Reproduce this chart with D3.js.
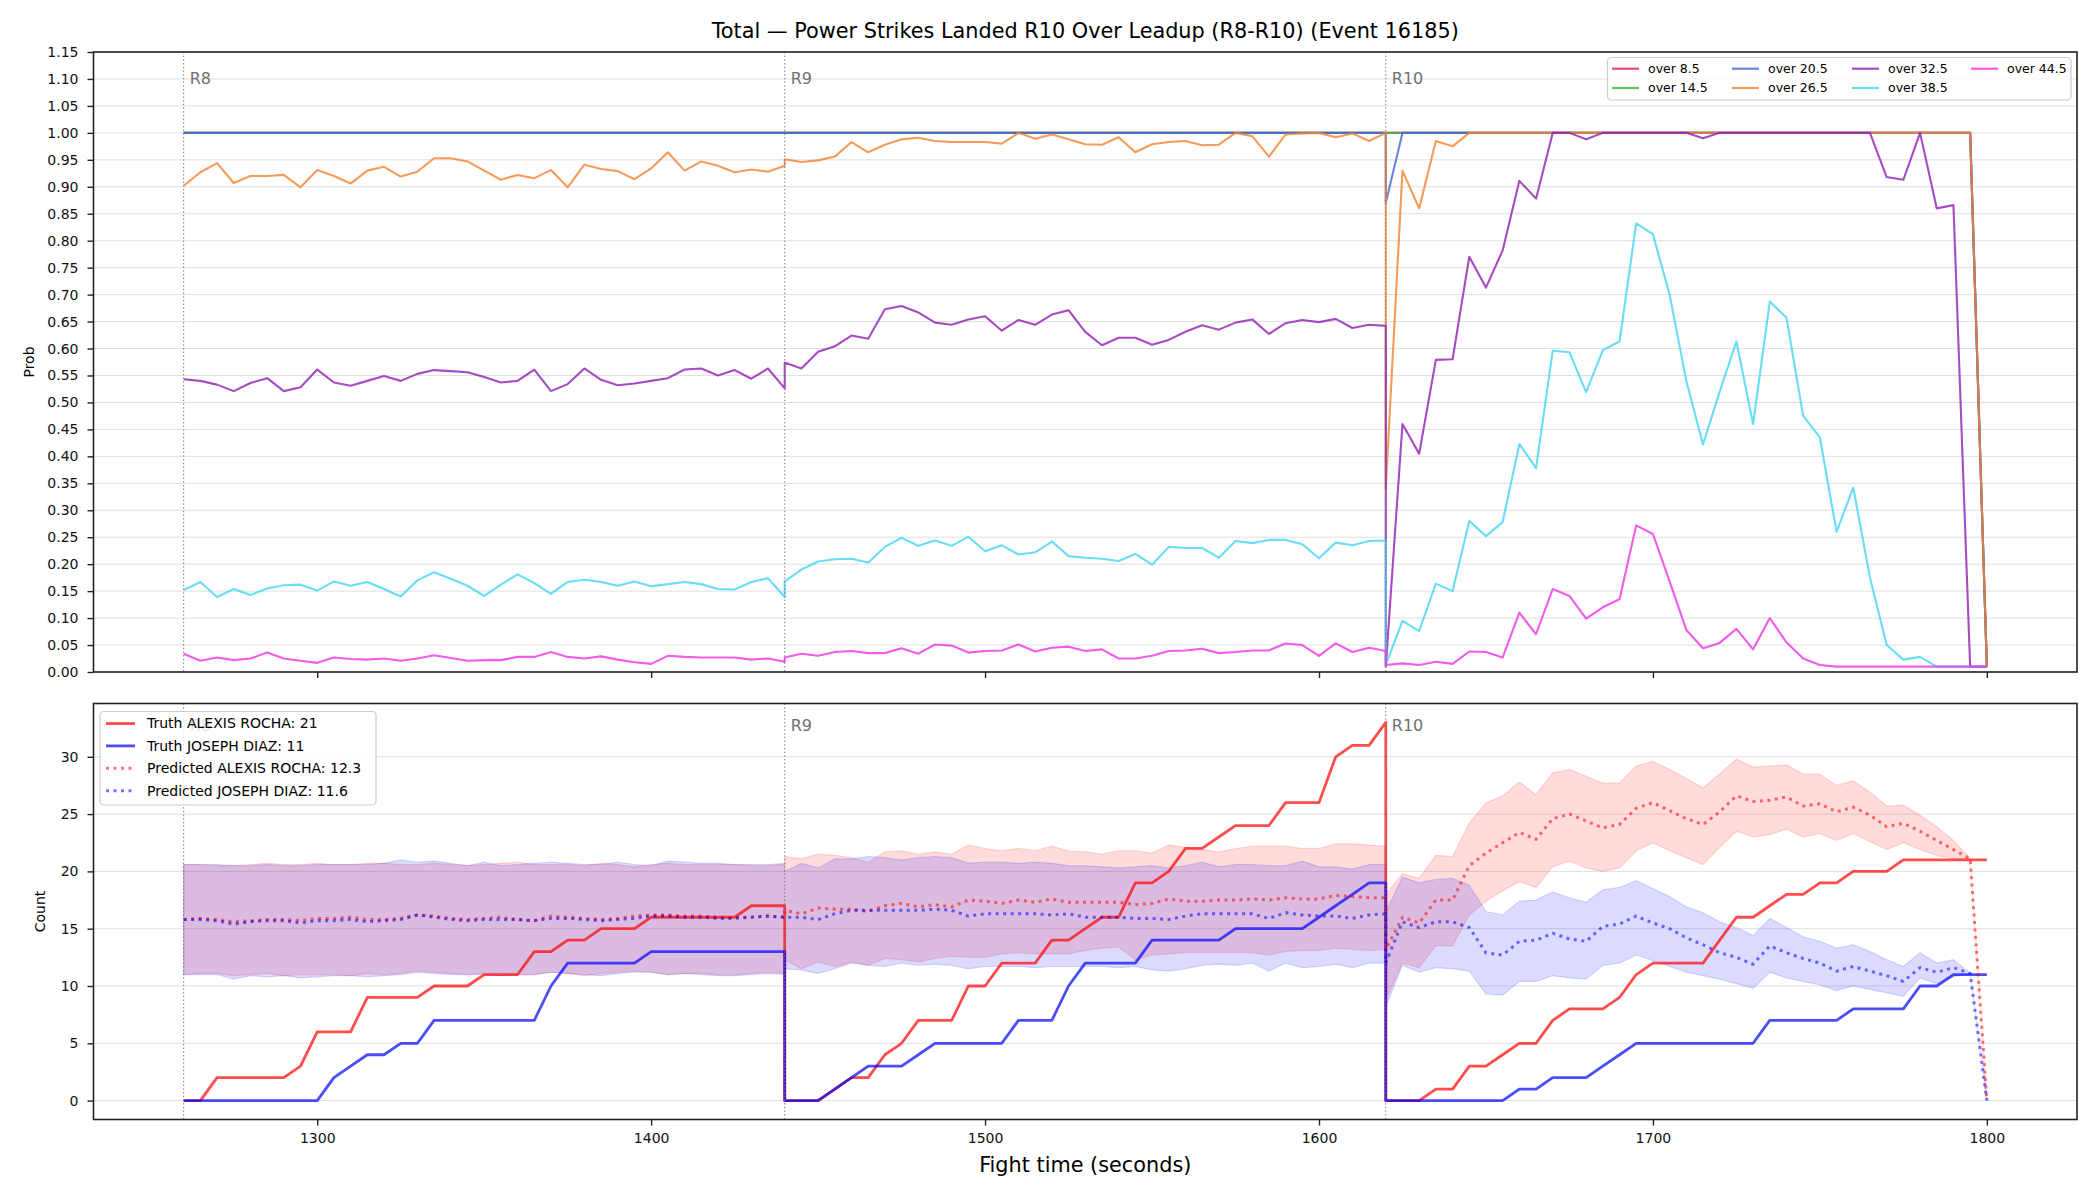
<!DOCTYPE html>
<html>
<head>
<meta charset="utf-8">
<script src="https://cdn.jsdelivr.net/npm/d3@7"></script>
<style>
    body { margin: 0; background: #fff; }
    svg { display: block; font-family: "DejaVu Sans", sans-serif; }
</style>
</head>
<body>
<svg id="chart" width="2100" height="1200"></svg>
<script>
const roundNames = ["R8", "R9", "R10"];
const roundStarts = [1260, 1440, 1620];
const sampleOffsets = [0, 5, 10, 15, 20, 25, 30, 35, 40, 45, 50, 55, 60, 65, 70, 75, 80, 85, 90,
    95, 100, 105, 110, 115, 120, 125, 130, 135, 140, 145, 150, 155, 160, 165, 170, 175, 180];
const timeTicks = [1300, 1400, 1500, 1600, 1700, 1800];
const probTicks = [0, 0.05, 0.1, 0.15, 0.2, 0.25, 0.3, 0.35, 0.4, 0.45, 0.5, 0.55, 0.6, 0.65, 0.7,
    0.75, 0.8, 0.85, 0.9, 0.95, 1.0, 1.05, 1.1, 1.15];
const countTicks = [0, 5, 10, 15, 20, 25, 30];

const overLabels = ["over 8.5", "over 14.5", "over 20.5", "over 26.5", "over 32.5", "over 38.5", "over 44.5"];
const overColors = ["#e6194b", "#3cb44b", "#4363d8", "#f58231", "#911eb4", "#42d4f4", "#f032e6"];

// probability series, one row per round (R8, R9, R10)
const over8_5 = [
    [1,1,1,1,1,1,1,1,1,1,1,1,1,1,1,1,1,1,1,1,1,1,1,1,1,1,1,1,1,1,1,1,1,1,1,1,1],
    [1,1,1,1,1,1,1,1,1,1,1,1,1,1,1,1,1,1,1,1,1,1,1,1,1,1,1,1,1,1,1,1,1,1,1,1,1],
    [1,1,1,1,1,1,1,1,1,1,1,1,1,1,1,1,1,1,1,1,1,1,1,1,1,1,1,1,1,1,1,1,1,1,1,1,0.01]
];
const over14_5 = [
    [1,1,1,1,1,1,1,1,1,1,1,1,1,1,1,1,1,1,1,1,1,1,1,1,1,1,1,1,1,1,1,1,1,1,1,1,1],
    [1,1,1,1,1,1,1,1,1,1,1,1,1,1,1,1,1,1,1,1,1,1,1,1,1,1,1,1,1,1,1,1,1,1,1,1,1],
    [1,1,1,1,1,1,1,1,1,1,1,1,1,1,1,1,1,1,1,1,1,1,1,1,1,1,1,1,1,1,1,1,1,1,1,1,0.01]
];
const over20_5 = [
    [1,1,1,1,1,1,1,1,1,1,1,1,1,1,1,1,1,1,1,1,1,1,1,1,1,1,1,1,1,1,1,1,1,1,1,1,1],
    [1,1,1,1,1,1,1,1,1,1,1,1,1,1,1,1,1,1,1,1,1,1,1,1,1,1,1,1,1,1,1,1,1,1,1,1,1],
    [0.87,1,1,1,1,1,1,1,1,1,1,1,1,1,1,1,1,1,1,1,1,1,1,1,1,1,1,1,1,1,1,1,1,1,1,1,0.01]
];
const over26_5 = [
    [0.902,0.927,0.944,0.907,0.920,0.920,0.922,0.899,0.931,0.920,0.906,0.930,0.937,0.919,0.928,0.953,0.953,0.947,0.930,
     0.913,0.922,0.916,0.931,0.899,0.941,0.933,0.929,0.914,0.934,0.964,0.930,0.947,0.939,0.927,0.932,0.928,0.939],
    [0.951,0.946,0.949,0.956,0.983,0.964,0.978,0.988,0.991,0.985,0.983,0.983,0.983,0.980,1.0,0.989,0.997,0.988,0.979,
     0.978,0.992,0.964,0.979,0.983,0.985,0.977,0.978,1.0,0.994,0.956,0.997,0.999,1.0,0.992,0.999,0.985,1.0],
    [0.34,0.93,0.86,0.985,0.975,1,1,1,1,1,1,1,1,1,1,1,1,1,1,1,1,1,1,1,1,1,1,1,1,1,1,1,1,1,1,1,0.01]
];
const over32_5 = [
    [0.543,0.540,0.533,0.521,0.536,0.545,0.521,0.528,0.561,0.537,0.531,0.540,0.549,0.540,0.553,0.560,0.558,0.556,0.547,
     0.537,0.540,0.561,0.521,0.534,0.563,0.542,0.532,0.535,0.540,0.545,0.561,0.563,0.550,0.560,0.544,0.563,0.526],
    [0.574,0.563,0.594,0.604,0.624,0.618,0.673,0.679,0.667,0.648,0.644,0.654,0.660,0.633,0.653,0.644,0.663,0.671,0.631,
     0.606,0.620,0.620,0.607,0.616,0.631,0.643,0.635,0.648,0.654,0.627,0.647,0.653,0.649,0.655,0.638,0.644,0.642],
    [0.01,0.46,0.405,0.579,0.58,0.77,0.713,0.782,0.911,0.878,1,1,0.988,1,1,1,1,1,1,
     0.99,1,1,1,1,1,1,1,1,1,1,0.918,0.913,1,0.86,0.866,0.01,0.01]
];
const over38_5 = [
    [0.152,0.167,0.139,0.154,0.143,0.155,0.161,0.162,0.151,0.168,0.160,0.167,0.154,0.140,0.170,0.185,0.173,0.160,0.141,
     0.162,0.181,0.165,0.145,0.167,0.171,0.167,0.160,0.168,0.159,0.163,0.167,0.163,0.154,0.153,0.167,0.174,0.139],
    [0.168,0.190,0.205,0.209,0.210,0.203,0.232,0.249,0.234,0.244,0.234,0.251,0.224,0.235,0.218,0.222,0.242,0.215,0.212,
     0.210,0.206,0.219,0.199,0.232,0.230,0.230,0.212,0.243,0.239,0.245,0.245,0.237,0.211,0.240,0.235,0.243,0.244],
    [0.013,0.095,0.076,0.164,0.150,0.280,0.252,0.278,0.423,0.378,0.596,0.593,0.519,0.597,0.613,0.832,0.812,0.700,0.540,
     0.422,0.520,0.613,0.460,0.687,0.657,0.475,0.435,0.260,0.342,0.175,0.050,0.023,0.028,0.010,0.010,0.010,0.010]
];
const over44_5 = [
    [0.034,0.021,0.027,0.022,0.025,0.036,0.025,0.021,0.017,0.027,0.024,0.023,0.025,0.021,0.025,0.031,0.026,0.021,0.022,
     0.022,0.028,0.028,0.037,0.028,0.025,0.029,0.023,0.018,0.015,0.030,0.028,0.027,0.027,0.027,0.023,0.025,0.019],
    [0.027,0.034,0.030,0.037,0.039,0.035,0.035,0.044,0.034,0.051,0.049,0.036,0.039,0.040,0.051,0.038,0.045,0.047,0.039,
     0.042,0.025,0.025,0.030,0.039,0.040,0.043,0.035,0.037,0.040,0.040,0.053,0.050,0.030,0.053,0.037,0.045,0.039],
    [0.013,0.016,0.013,0.019,0.015,0.038,0.037,0.027,0.110,0.070,0.154,0.141,0.099,0.120,0.135,0.272,0.256,0.168,0.078,
     0.044,0.054,0.080,0.042,0.100,0.055,0.025,0.013,0.010,0.010,0.010,0.010,0.010,0.010,0.010,0.010,0.010,0.010]
];
const overSeries = [over8_5, over14_5, over20_5, over26_5, over32_5, over38_5, over44_5];

const fighterNames = ["ALEXIS ROCHA", "JOSEPH DIAZ"];
const truthFinal = [21, 11];
const predictedFinal = [12.3, 11.6];

const truthRocha = [
    [0,0,2,2,2,2,2,3,6,6,6,9,9,9,9,10,10,10,11,11,11,13,13,14,14,15,15,15,16,16,16,16,16,16,17,17,17],
    [0,0,0,1,2,2,4,5,7,7,7,10,10,12,12,12,14,14,15,16,16,19,19,20,22,22,23,24,24,24,26,26,26,30,31,31,33],
    [0,0,0,1,1,3,3,4,5,5,7,8,8,8,9,11,12,12,12,12,14,16,16,17,18,18,19,19,20,20,20,21,21,21,21,21,21]
];
const truthDiaz = [
    [0,0,0,0,0,0,0,0,0,2,3,4,4,5,5,7,7,7,7,7,7,7,10,12,12,12,12,12,13,13,13,13,13,13,13,13,13],
    [0,0,0,1,2,3,3,3,4,5,5,5,5,5,7,7,7,10,12,12,12,12,14,14,14,14,14,15,15,15,15,15,16,17,18,19,19],
    [0,0,0,0,0,0,0,0,1,1,2,2,2,3,4,5,5,5,5,5,5,5,5,7,7,7,7,7,8,8,8,8,10,10,11,11,11]
];
const predRocha = [
    [15.8,15.9,15.8,15.6,15.7,15.8,15.8,15.7,15.9,15.9,16.0,15.8,15.8,15.9,16.2,16.1,15.9,15.8,15.9,
     16.0,15.8,15.7,16.1,16.0,15.9,15.8,15.9,16.1,16.2,16.2,16.1,16.1,16.0,16.0,16.0,16.1,16.0],
    [16.6,16.3,16.8,16.7,16.7,16.5,17.0,17.2,16.9,17.1,16.9,17.5,17.4,17.2,17.5,17.3,17.6,17.3,17.3,
     17.3,17.3,17.1,17.2,17.6,17.4,17.4,17.5,17.5,17.6,17.5,17.7,17.6,17.6,17.9,17.8,17.7,17.7],
    [13.2,16.0,15.5,17.5,17.5,20.5,21.6,22.5,23.4,22.8,24.6,25.0,24.4,23.8,24.1,25.5,26.0,25.3,24.6,
     24.1,25.2,26.6,26.1,26.2,26.5,25.7,25.9,25.2,25.6,24.9,23.9,24.2,23.5,22.7,21.9,21.1,0]
];
const predDiaz = [
    [15.8,15.8,15.7,15.4,15.6,15.7,15.7,15.5,15.7,15.7,15.8,15.6,15.7,15.8,16.2,16.0,15.8,15.7,15.8,
     15.8,15.8,15.7,15.9,15.9,15.8,15.7,15.8,15.9,16.1,16.1,16.0,16.0,15.9,15.9,16.0,16.1,16.0],
    [16.0,16.0,15.8,16.3,16.6,16.6,16.6,16.6,16.6,16.7,16.6,16.1,16.3,16.3,16.3,16.3,16.2,16.3,16.0,
     16.0,16.0,15.9,15.9,15.8,16.1,16.3,16.3,16.3,16.3,15.9,16.4,16.2,16.1,16.1,15.9,16.2,16.3],
    [12.0,15.6,15.1,15.6,15.6,15.1,12.9,12.7,13.9,14.0,14.6,14.1,13.9,15.2,15.4,16.1,15.5,15.0,14.2,
     13.6,12.9,12.5,11.9,13.5,12.9,12.4,12.0,11.3,11.7,11.3,10.9,10.4,11.6,11.2,11.6,11.1,0]
];
const rochaLow = [
    [11.0,11.1,11.1,10.9,11.0,11.1,10.9,11.0,11.0,11.0,10.9,11.1,11.0,11.1,11.3,11.2,11.1,11.0,11.1,
     11.1,11.0,11.0,11.2,11.1,10.9,11.1,11.2,11.3,11.2,11.0,11.1,11.1,11.0,11.0,11.1,11.2,11.1],
    [12.3,11.5,12.1,11.7,12.1,11.8,12.4,12.3,12.1,12.4,12.6,12.5,12.5,12.8,12.9,12.8,12.8,12.8,13.1,
     13.3,13.4,12.3,12.7,12.8,12.9,12.9,12.9,12.9,12.9,12.7,13.0,13.1,13.1,13.3,13.2,13.1,13.2],
    [8.8,12.0,11.6,13.5,13.5,16.2,17.4,18.3,19.1,18.6,20.4,20.9,20.3,20.0,20.3,21.8,22.5,21.8,21.2,
     20.6,22.1,23.5,23.0,23.2,23.7,23.0,23.3,22.7,23.3,22.6,21.9,22.5,21.9,21.4,21.1,21.1,0]
];
const rochaHigh = [
    [20.6,20.6,20.5,20.5,20.6,20.7,20.6,20.6,20.7,20.6,20.6,20.7,20.7,20.6,20.6,20.7,20.6,20.5,20.6,
     20.7,20.8,20.6,20.6,20.6,20.5,20.7,20.6,20.4,20.6,20.7,20.6,20.6,20.6,20.6,20.5,20.5,20.6],
    [21.3,21.1,21.5,21.4,21.2,20.8,21.7,21.8,21.5,21.7,21.5,22.3,22.0,21.8,22.0,21.8,22.2,21.8,21.7,
     21.5,21.8,21.8,21.6,22.3,22.1,21.9,21.7,22.0,22.2,22.2,22.2,22.0,22.0,22.4,22.4,22.3,22.2],
    [18.0,19.8,19.4,21.4,21.3,24.2,26.0,26.6,27.8,26.7,28.6,28.9,28.3,27.7,27.7,29.2,29.6,28.9,28.1,
     27.3,28.5,29.8,29.1,29.2,29.3,28.5,28.5,27.5,27.9,26.9,25.7,25.8,24.9,23.9,22.7,21.1,0]
];
const diazLow = [
    [11.0,11.0,11.0,10.6,10.9,10.8,10.9,10.7,10.8,10.9,10.9,10.8,10.9,11.0,11.2,11.1,11.0,11.0,11.0,
     10.9,11.0,11.0,11.2,11.1,11.0,10.9,11.1,11.2,11.2,11.0,11.1,11.0,10.9,10.9,11.0,11.1,11.0],
    [11.5,11.4,11.1,11.5,12.0,11.8,11.7,12.0,11.8,11.9,11.8,11.5,11.7,11.7,11.7,11.6,11.7,11.7,11.7,
     11.7,11.6,11.7,11.4,11.3,11.5,11.8,11.9,11.8,12.0,11.3,12.0,11.6,11.7,11.9,11.6,12.0,12.0],
    [8.2,11.8,11.2,11.6,11.5,11.3,9.3,9.2,10.4,10.4,10.9,10.7,10.6,11.8,12.0,12.7,12.2,11.7,11.2,
     10.9,10.6,10.2,9.8,11.2,10.7,10.4,10.1,9.6,10.0,9.7,9.4,9.1,10.7,10.2,10.8,11.1,0]
];
const diazHigh = [
    [20.6,20.6,20.6,20.5,20.5,20.6,20.5,20.5,20.6,20.6,20.6,20.6,20.7,21.0,20.8,20.9,20.7,20.5,20.8,
     20.5,20.6,20.7,20.8,20.7,20.6,20.6,20.8,20.6,20.5,20.9,20.8,20.7,20.7,20.6,20.6,20.6,20.7],
    [20.0,20.7,20.3,21.1,21.1,21.3,21.2,21.0,21.2,21.3,21.2,20.7,20.8,20.8,20.7,20.8,20.7,20.5,20.5,
     20.4,20.3,20.4,20.5,20.3,20.5,20.8,20.4,20.6,20.6,20.5,20.5,20.9,20.4,20.4,20.2,20.6,20.6],
    [16.5,19.5,19.0,19.3,19.4,18.8,16.5,16.2,17.4,17.5,18.2,17.7,17.3,18.4,18.6,19.2,18.5,17.8,16.9,
     16.4,15.6,15.1,14.4,15.9,15.1,14.3,13.9,13.3,13.6,13.0,12.3,11.7,12.9,12.0,12.3,11.1,0]
];

(function (d3) {
    'use strict';

    const svg = d3.select("#chart");
    const left = 93.5, right = 2077;
    const topBox = {y0: 52, y1: 672};
    const botBox = {y0: 703.5, y1: 1119.5};

    // one continuous track over all rounds: each round restarts at its own start second
    function toPoints(rounds) {
        let pts = [];
        rounds.forEach((vals, r) => {
            vals.forEach((v, i) => pts.push([roundStarts[r] + sampleOffsets[i], v]));
        });
        return pts;
    }

    function toBand(lows, highs) {
        let lo = toPoints(lows), hi = toPoints(highs);
        return lo.map((p, i) => [p[0], p[1], hi[i][1]]);
    }

    const x = d3.scaleLinear().domain([1233, 1827]).range([left, right]);
    const yP = d3.scaleLinear().domain([0, 1.15]).range([topBox.y1, topBox.y0]);
    const yC = d3.scaleLinear().domain([-1.65, 34.65]).range([botBox.y1, botBox.y0]);

    svg.append("text")
        .attr("x", (left + right) / 2).attr("y", 38)
        .attr("text-anchor", "middle")
        .style("font-size", "20.8px")
        .text("Total \u2014 Power Strikes Landed R10 Over Leadup (R8-R10) (Event 16185)");

    function drawGrid(yScale, ticks) {
        svg.append("g").selectAll("line")
            .data(ticks)
            .enter()
            .append("line")
            .attr("x1", left).attr("x2", right)
            .attr("y1", d => yScale(d)).attr("y2", d => yScale(d))
            .style("stroke", "#e0e0e0")
            .style("stroke-width", 1);
    }

    function drawRoundLines(box, labelOffset) {
        const g = svg.append("g");
        g.selectAll("line")
            .data(roundStarts)
            .enter()
            .append("line")
            .attr("x1", d => x(d)).attr("x2", d => x(d))
            .attr("y1", box.y0).attr("y2", box.y1)
            .style("stroke", "#777")
            .style("stroke-width", 1)
            .style("stroke-dasharray", "1.4,2.3");
        g.selectAll("text")
            .data(roundStarts)
            .enter()
            .append("text")
            .attr("x", d => x(d) + 6)
            .attr("y", box.y0 + labelOffset)
            .style("font-size", "16px")
            .style("fill", "#707070")
            .text((d, i) => roundNames[i]);
    }

    function drawFrame(box, yScale, ticks, fmt, showX) {
        svg.append("g")
            .attr("transform", `translate(${left},0)`)
            .call(d3.axisLeft(yScale).tickValues(ticks).tickFormat(fmt).tickSizeOuter(0).tickSize(6).tickPadding(9))
            .call(g => g.select(".domain").remove());
        let xa = svg.append("g")
            .attr("transform", `translate(0,${box.y1})`)
            .call(d3.axisBottom(x).tickValues(timeTicks).tickSizeOuter(0).tickSize(6).tickPadding(8)
                .tickFormat(showX ? d3.format("d") : ""));
        xa.select(".domain").remove();
        svg.selectAll(".tick line").style("stroke", "#222").style("stroke-width", 1.4);
        svg.selectAll(".tick text").style("font-size", "14px").style("font-family", "DejaVu Sans").style("fill", "#111");
        svg.append("rect")
            .attr("x", left).attr("y", box.y0)
            .attr("width", right - left).attr("height", box.y1 - box.y0)
            .style("fill", "none")
            .style("stroke", "#222")
            .style("stroke-width", 1.6);
    }

    // ---- top panel: probabilities ----
    drawGrid(yP, probTicks);

    const probLine = d3.line().x(d => x(d[0])).y(d => yP(d[1]));
    overSeries.forEach((series, k) => {
        svg.append("path")
            .datum(toPoints(series))
            .attr("d", probLine)
            .style("fill", "none")
            .style("stroke", overColors[k])
            .style("stroke-opacity", 0.8)
            .style("stroke-width", 2.1)
            .style("stroke-linejoin", "round");
    });

    drawRoundLines(topBox, 32);
    drawFrame(topBox, yP, probTicks, d3.format(".2f"), false);

    svg.append("text")
        .attr("transform", `translate(29.5,${(topBox.y0 + topBox.y1) / 2}) rotate(-90)`)
        .attr("text-anchor", "middle")
        .attr("dy", "0.35em")
        .style("font-size", "14px")
        .text("Prob");

    // top legend, 4 columns filled column-wise
    const legTop = svg.append("g");
    legTop.append("rect")
        .attr("x", 1607.5).attr("y", 57.5)
        .attr("width", 463.5).attr("height", 42.5)
        .attr("rx", 4)
        .style("fill", "#fff").style("fill-opacity", 0.8)
        .style("stroke", "#cccccc").style("stroke-width", 1.2);
    const colX = [1612, 1732, 1852, 1971];
    const rowY = [68.7, 88];
    overLabels.forEach((label, k) => {
        let cx = colX[Math.floor(k / 2)], cy = rowY[k % 2];
        legTop.append("line")
            .attr("x1", cx).attr("x2", cx + 27)
            .attr("y1", cy).attr("y2", cy)
            .style("stroke", overColors[k]).style("stroke-opacity", 0.8).style("stroke-width", 2.2);
        legTop.append("text")
            .attr("x", cx + 36).attr("y", cy)
            .attr("dy", "0.35em")
            .style("font-size", "12.5px")
            .text(label);
    });

    // ---- bottom panel: counts ----
    drawGrid(yC, countTicks);

    const bandArea = d3.area().x(d => x(d[0])).y0(d => yC(d[1])).y1(d => yC(d[2]));
    const countLine = d3.line().x(d => x(d[0])).y(d => yC(d[1]));

    const fighters = [
        {truth: truthRocha, pred: predRocha, lo: rochaLow, hi: rochaHigh, color: "#ff0000"},
        {truth: truthDiaz, pred: predDiaz, lo: diazLow, hi: diazHigh, color: "#0000ff"}
    ];

    fighters.forEach(f => {
        svg.append("path")
            .datum(toBand(f.lo, f.hi))
            .attr("d", bandArea)
            .style("fill", f.color).style("fill-opacity", 0.14)
            .style("stroke", f.color).style("stroke-opacity", 0.14).style("stroke-width", 1.2);
    });
    fighters.forEach(f => {
        svg.append("path")
            .datum(toPoints(f.truth))
            .attr("d", countLine)
            .style("fill", "none")
            .style("stroke", f.color).style("stroke-opacity", 0.7)
            .style("stroke-width", 2.8)
            .style("stroke-linejoin", "round");
    });
    fighters.forEach(f => {
        svg.append("path")
            .datum(toPoints(f.pred))
            .attr("d", countLine)
            .style("fill", "none")
            .style("stroke", f.color).style("stroke-opacity", 0.55)
            .style("stroke-width", 3)
            .style("stroke-dasharray", "3,4.5");
    });

    drawRoundLines(botBox, 27);
    drawFrame(botBox, yC, countTicks, d3.format("d"), true);

    svg.append("text")
        .attr("transform", `translate(40,${(botBox.y0 + botBox.y1) / 2}) rotate(-90)`)
        .attr("text-anchor", "middle")
        .attr("dy", "0.35em")
        .style("font-size", "14px")
        .text("Count");

    svg.append("text")
        .attr("x", (left + right) / 2).attr("y", 1172)
        .attr("text-anchor", "middle")
        .style("font-size", "20.8px")
        .text("Fight time (seconds)");

    // bottom legend sits over the R8 label, as in the original
    const legBot = svg.append("g");
    legBot.append("rect")
        .attr("x", 100).attr("y", 711.5)
        .attr("width", 276).attr("height", 93.5)
        .attr("rx", 4)
        .style("fill", "#fff").style("fill-opacity", 0.8)
        .style("stroke", "#cccccc").style("stroke-width", 1.2);
    const legRows = [
        {label: `Truth ${fighterNames[0]}: ${truthFinal[0]}`, color: "#ff0000", dotted: false},
        {label: `Truth ${fighterNames[1]}: ${truthFinal[1]}`, color: "#0000ff", dotted: false},
        {label: `Predicted ${fighterNames[0]}: ${predictedFinal[0]}`, color: "#ff0000", dotted: true},
        {label: `Predicted ${fighterNames[1]}: ${predictedFinal[1]}`, color: "#0000ff", dotted: true}
    ];
    legRows.forEach((row, i) => {
        let cy = 723.5 + i * 22.4;
        legBot.append("line")
            .attr("x1", 106).attr("x2", 135)
            .attr("y1", cy).attr("y2", cy)
            .style("stroke", row.color)
            .style("stroke-opacity", row.dotted ? 0.55 : 0.7)
            .style("stroke-width", row.dotted ? 3 : 2.8)
            .style("stroke-dasharray", row.dotted ? "3,4.5" : null);
        legBot.append("text")
            .attr("x", 147).attr("y", cy)
            .attr("dy", "0.35em")
            .style("font-size", "14px")
            .text(row.label);
    });

}(d3));
</script>
</body>
</html>
